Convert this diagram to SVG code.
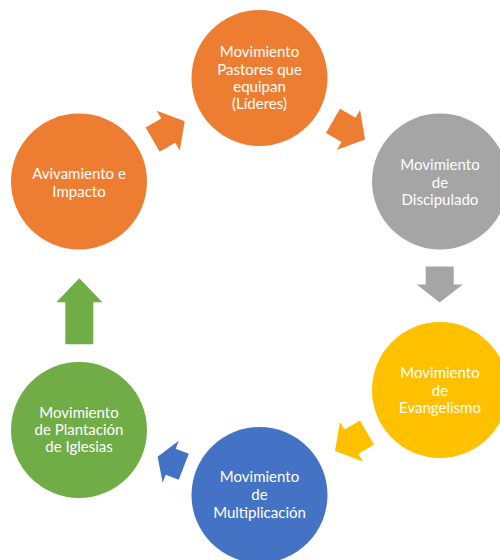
<svg xmlns="http://www.w3.org/2000/svg" width="500" height="560" viewBox="0 0 500 560">
<style>
.t{font-family:Lato,"Liberation Sans",sans-serif;font-size:15px;fill:#fff;text-anchor:middle}
</style>
<defs>
<polygon id="a37" points="-18.5,-14 -0.5,-14 -0.5,-23 18.5,0 -0.5,23 -0.5,14 -18.5,14"/>
</defs>
<rect width="500" height="560" fill="#fff"/>
<g id="connectors">
<use href="#a37" fill="#ED7D31" transform="translate(168.7,130.4) rotate(-30)"/>
<use href="#a37" fill="#ED7D31" transform="translate(349,130.2) rotate(30)"/>
<polygon fill="#A5A5A5" transform="translate(439.7,284.5) rotate(90)" points="-18,-14 0,-14 0,-23 18,0 0,23 0,14 -18,14"/>
<use href="#a37" fill="#FFC000" transform="translate(351,441.8) rotate(150)"/>
<polygon fill="#4472C4" transform="translate(170.7,461.7) rotate(201)" points="-14,-14 0,-14 0,-22.5 14,0 0,22.5 0,14 -14,14"/>
<polygon fill="#70AD47" transform="translate(79.3,311.2) rotate(-90)" points="-33,-14 9,-14 9,-23 33,0 9,23 9,14 -33,14"/>
</g>
<g id="n1">
<circle cx="259.5" cy="78" r="68" fill="#ED7D31"/>
<text class="t" x="259.5" y="57">Movimiento</text>
<text class="t" x="259.5" y="74.5">Pastores que</text>
<text class="t" x="259.5" y="91.5">equipan</text>
<text class="t" x="259.5" y="109">(Líderes)</text>
</g>
<g id="n2">
<circle cx="440" cy="181.5" r="68" fill="#A5A5A5"/>
<text class="t" x="440" y="169.5">Movimiento</text>
<text class="t" x="440" y="187.5">de</text>
<text class="t" x="440" y="204.5">Discipulado</text>
</g>
<g id="n3">
<circle cx="440" cy="390" r="68" fill="#FFC000"/>
<text class="t" x="440" y="378">Movimiento</text>
<text class="t" x="440" y="395.5">de</text>
<text class="t" x="440" y="412.5">Evangelismo</text>
</g>
<g id="n4">
<circle cx="259.5" cy="495" r="68" fill="#4472C4"/>
<text class="t" x="259.5" y="482">Movimiento</text>
<text class="t" x="259.5" y="499.5">de</text>
<text class="t" x="259.5" y="517.5">Multiplicación</text>
</g>
<g id="n5">
<circle cx="79" cy="430" r="68" fill="#70AD47"/>
<text class="t" x="79" y="417.5">Movimiento</text>
<text class="t" x="79" y="434.5">de Plantación</text>
<text class="t" x="79" y="452">de Iglesias</text>
</g>
<g id="n6">
<circle cx="79" cy="181.5" r="68" fill="#ED7D31"/>
<text class="t" x="79" y="178.5">Avivamiento e</text>
<text class="t" x="79" y="196.5">Impacto</text>
</g>
</svg>
